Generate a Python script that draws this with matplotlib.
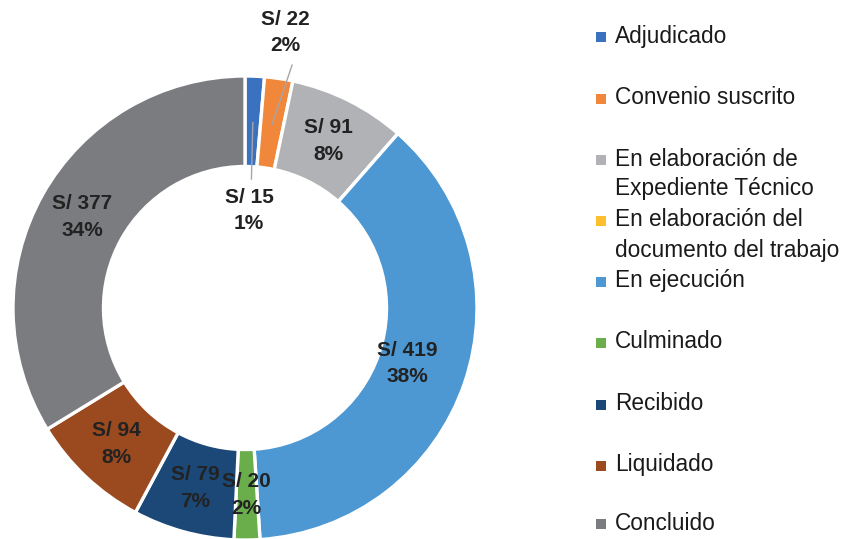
import numpy as np
import matplotlib
matplotlib.use("Agg")
import matplotlib.pyplot as plt
from matplotlib.patches import Rectangle

# Data
categories = [
    "Adjudicado",
    "Convenio suscrito",
    "En elaboración de\nExpediente Técnico",
    "En elaboración del\ndocumento del trabajo",
    "En ejecución",
    "Culminado",
    "Recibido",
    "Liquidado",
    "Concluido",
]
amounts = [15, 22, 91, 0, 419, 20, 79, 94, 377]
colors = ["#3b72bf", "#f0873a", "#b1b2b5", "#fdbf2d", "#4d98d3",
          "#6aae4b", "#1c4877", "#9b4a1f", "#7b7c80"]

family = "Liberation Sans"

fig = plt.figure(figsize=(8.45, 5.39), dpi=100)
W, H = 845, 539

# Donut axes: centre (245, 308) px, outer radius 232 px
cx, cy, R = 245, 308, 232
ring = 0.39
ax = fig.add_axes([(cx - R) / W, (H - cy - R) / H, 2 * R / W, 2 * R / H])
wedges, _ = ax.pie(amounts, colors=colors, startangle=90, counterclock=False,
                   radius=1.0,
                   wedgeprops=dict(width=ring, edgecolor="white", linewidth=2.4))
ax.set_xlim(-1, 1)
ax.set_ylim(-1, 1)
ax.set_aspect("equal")
ax.axis("off")

total = sum(amounts)
label_kw = dict(family=family, fontweight="bold", fontsize=15, color="#222222",
                ha="center", va="center", linespacing=1.5, clip_on=False)

mid_r = 1 - ring / 2
label_r = [0.42, 1.20, mid_r, mid_r, 0.74, mid_r, mid_r, mid_r, mid_r]
# leader lines for the two thin slices: (start radius on wedge, label offset of end)
leaders = {0: (0.80, (0.010, 0.136)), 1: (0.80, (0.028, -0.140))}

for i, (w, v) in enumerate(zip(wedges, amounts)):
    if v == 0:
        continue
    theta = np.deg2rad((w.theta1 + w.theta2) / 2)
    pct = round(100 * v / total)
    lx, ly = label_r[i] * np.cos(theta), label_r[i] * np.sin(theta)
    if i in leaders:
        r0, (ox, oy) = leaders[i]
        ax.plot([r0 * np.cos(theta), lx + ox], [r0 * np.sin(theta), ly + oy],
                color="#a6a6a6", lw=1.0, zorder=3, clip_on=False)
    ax.text(lx, ly, f"S/ {v}\n{pct}%", **label_kw)

# Legend
legend_rows = [37, 99, 160, 221, 282, 343, 405, 466, 524]
for name, col, y in zip(categories, colors, legend_rows):
    fig.patches.append(Rectangle((596 / W, (H - y - 5) / H), 10 / W, 10 / H,
                                 transform=fig.transFigure, facecolor=col,
                                 edgecolor="none"))
    for k, line in enumerate(name.split("\n")):
        fig.text(615 / W, (H - y - 30 * k + 1) / H, line, family=family,
                 fontsize=16.3, color="#1a1a1a", ha="left", va="center")

fig.savefig("out.png", dpi=100)
